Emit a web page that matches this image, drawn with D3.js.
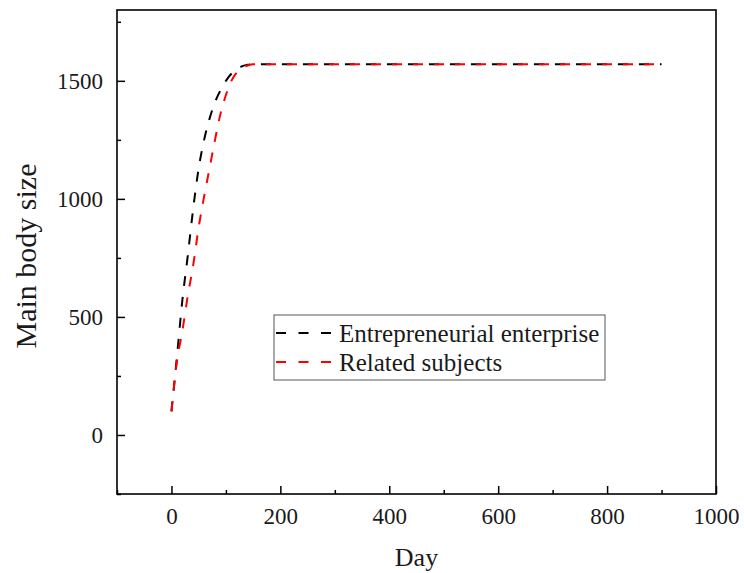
<!DOCTYPE html>
<html>
<head>
<meta charset="utf-8">
<script src="https://cdn.jsdelivr.net/npm/d3@7"></script>
<style>
  body { margin: 0; background: #fff; }
  text { font-family: "Liberation Serif", "Times New Roman", serif; }
</style>
</head>
<body>
<div class="chartHolder"></div>
<script>
// data
let days = [0, 10, 20, 30, 40, 50, 60, 70, 80, 90, 100, 110, 120, 130, 140, 150, 160, 900];
let enterprise = [100, 330, 570, 760, 960, 1130, 1250, 1340, 1410, 1460, 1500, 1530, 1550, 1562, 1568, 1570, 1570, 1570];
let related = [100, 310, 440, 590, 720, 880, 1010, 1130, 1250, 1360, 1440, 1500, 1535, 1555, 1565, 1570, 1570, 1570];
let xTicks = [0, 200, 400, 600, 800, 1000];
let yTicks = [0, 500, 1000, 1500];
let seriesNames = ["Entrepreneurial enterprise", "Related subjects"];
let seriesColors = ["#000000", "#ff0000"];

let width = 744,
  height = 573,
  plotLeft = 117,
  plotTop = 10,
  plotRight = 716,
  plotBottom = 494;

let svg = d3
  .select(".chartHolder")
  .append("svg")
  .attr("width", width)
  .attr("height", height);

let xScale = d3.scaleLinear().domain([-100, 1000]).range([plotLeft, plotRight]);
let yScale = d3.scaleLinear().domain([-250, 1800]).range([plotBottom, plotTop]);

// minor ticks (short, inward)
let xAxisMinor = d3.axisBottom(xScale)
  .tickValues(d3.range(-100, 1001, 100).filter((d) => d % 200 !== 0))
  .tickSize(-4).tickFormat("");
let yAxisMinor = d3.axisLeft(yScale)
  .tickValues([-250, 250, 750, 1250, 1750])
  .tickSize(-4).tickFormat("");

svg.append("g").attr("transform", `translate(0,${plotBottom})`).call(xAxisMinor);
svg.append("g").attr("transform", `translate(${plotLeft},0)`).call(yAxisMinor);

// major ticks
let xAxis = d3.axisBottom(xScale).tickValues(xTicks).tickSize(-8).tickPadding(14).tickFormat(d3.format("d"));
let yAxis = d3.axisLeft(yScale).tickValues(yTicks).tickSize(-8).tickPadding(14).tickFormat(d3.format("d"));

svg.append("g").attr("class", "axis").attr("transform", `translate(0,${plotBottom})`).call(xAxis);
svg.append("g").attr("class", "axis").attr("transform", `translate(${plotLeft},0)`).call(yAxis);

svg.selectAll(".domain").remove();
svg.selectAll(".tick line").attr("stroke", "#000").attr("stroke-width", 1.5);
svg.selectAll(".axis text")
  .attr("fill", "#1a1a1a")
  .style("font-size", "23px")
  .style("font-family", "'Liberation Serif', serif");

// frame
svg.append("rect")
  .attr("x", plotLeft).attr("y", plotTop)
  .attr("width", plotRight - plotLeft).attr("height", plotBottom - plotTop)
  .attr("fill", "none").attr("stroke", "#000").attr("stroke-width", 1.6);

// curves
let line = d3.line()
  .x((d) => xScale(d[0]))
  .y((d) => yScale(d[1]))
  .curve(d3.curveMonotoneX);

[enterprise, related].forEach((vals, i) => {
  svg.append("path")
    .datum(days.map((d, j) => [d, vals[j]]))
    .attr("d", line)
    .attr("fill", "none")
    .attr("stroke", seriesColors[i])
    .attr("stroke-width", 2)
    .attr("stroke-dasharray", "10,11");
});

// legend
let legend = svg.append("g").attr("transform", "translate(274,315)");
legend.append("rect")
  .attr("width", 331).attr("height", 65)
  .attr("fill", "#fff").attr("stroke", "#555").attr("stroke-width", 1);
seriesNames.forEach((name, i) => {
  let y = 18 + i * 29;
  legend.append("line")
    .attr("x1", 2).attr("x2", 58).attr("y1", y).attr("y2", y)
    .attr("stroke", seriesColors[i]).attr("stroke-width", 2.2)
    .attr("stroke-dasharray", "10,12.5");
  legend.append("text")
    .attr("x", 65).attr("y", y + 9)
    .attr("fill", "#1a1a1a")
    .style("font-size", "25px")
    .text(name);
});

// axis titles
svg.append("text")
  .attr("x", (plotLeft + plotRight) / 2).attr("y", 566)
  .attr("text-anchor", "middle")
  .attr("fill", "#1a1a1a")
  .style("font-size", "26px")
  .text("Day");

svg.append("text")
  .attr("transform", "translate(36,256) rotate(-90)")
  .attr("text-anchor", "middle")
  .attr("fill", "#1a1a1a")
  .style("font-size", "30px")
  .text("Main body size");
</script>
</body>
</html>
